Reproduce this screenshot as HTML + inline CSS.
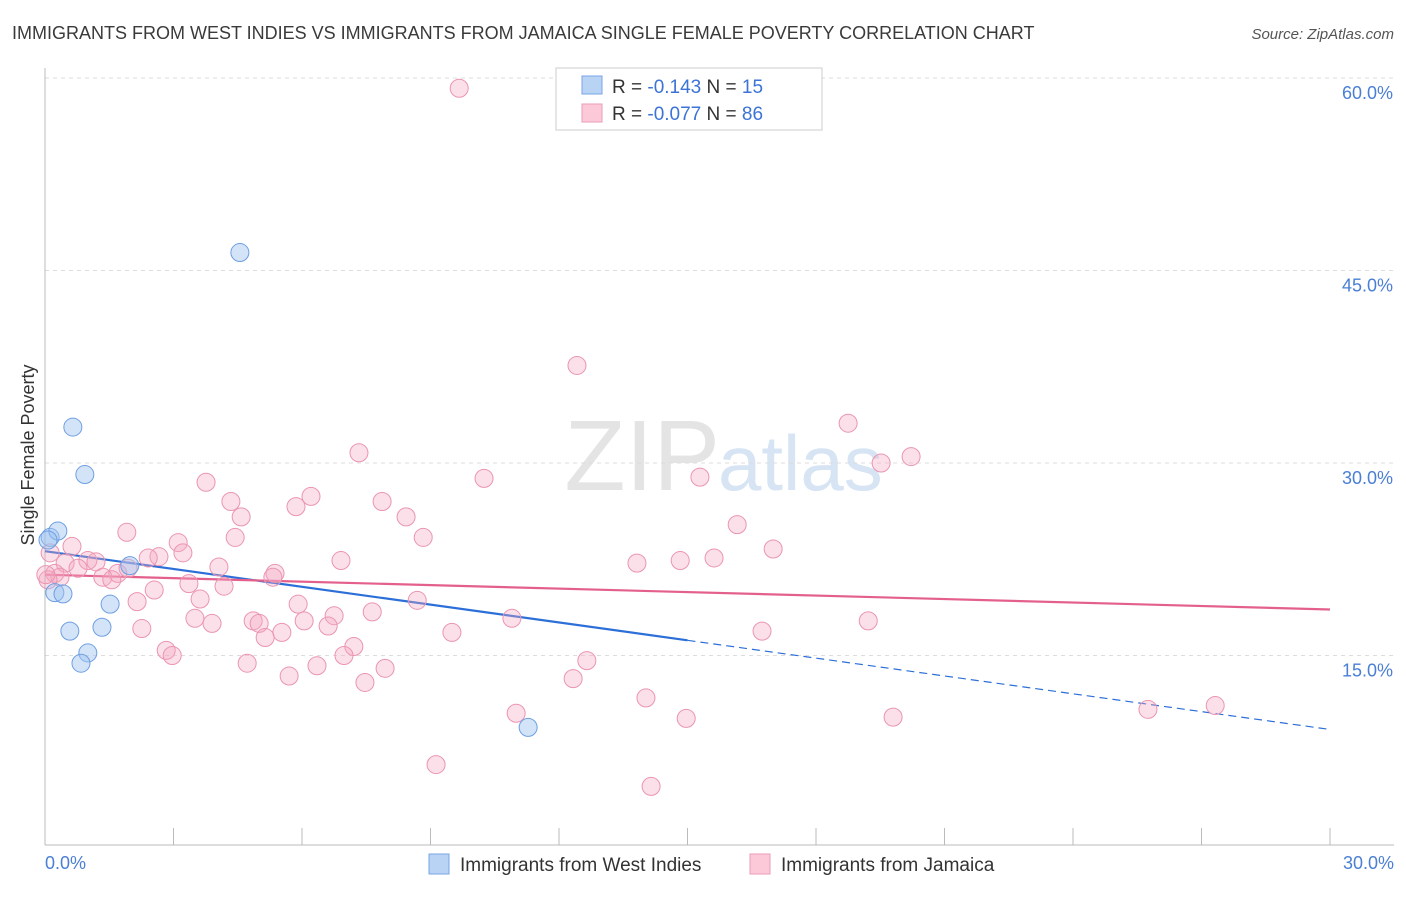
<!DOCTYPE html>
<html><head><meta charset="utf-8"><style>
body{margin:0;background:#fff;font-family:"Liberation Sans",sans-serif;}
svg text{font-family:"Liberation Sans",sans-serif;}
</style></head><body>
<svg id="chart" width="1406" height="892" viewBox="0 0 1406 892" xmlns="http://www.w3.org/2000/svg">
<text x="12" y="39" font-size="18" fill="#3a3a3a">IMMIGRANTS FROM WEST INDIES VS IMMIGRANTS FROM JAMAICA SINGLE FEMALE POVERTY CORRELATION CHART</text>
<text x="1394" y="39" font-size="15" fill="#555" text-anchor="end" font-style="italic">Source: ZipAtlas.com</text>
<text x="720" y="490" font-size="100" fill="#e4e4e4" text-anchor="end" font-family="Liberation Serif">ZIP</text>
<text x="718" y="490" font-size="78" fill="#d6e4f4">atlas</text>
<g id="grid"></g><g id="axes"></g><g id="lines"></g><g id="pts"></g>
<text transform="translate(34,455) rotate(-90)" font-size="18" fill="#333" text-anchor="middle">Single Female Poverty</text>
<text x="45" y="869" font-size="18" fill="#4a7fd4">0.0%</text>
<text x="1394" y="869" font-size="18" fill="#4a7fd4" text-anchor="end">30.0%</text>
<g>
<rect x="556" y="68" width="266" height="62" fill="#fff" stroke="#ccc"/>
<rect x="582" y="76" width="20" height="18" fill="#b9d3f5" stroke="#7aa5e4"/>
<rect x="582" y="104" width="20" height="18" fill="#fcc9d8" stroke="#ec9db7"/>
<text x="612" y="93" font-size="19" fill="#333">R = <tspan fill="#3b73d6">-0.143</tspan>   N = <tspan fill="#3b73d6">15</tspan></text>
<text x="612" y="120" font-size="19" fill="#333">R = <tspan fill="#3b73d6">-0.077</tspan>   N = <tspan fill="#3b73d6">86</tspan></text>
</g>
<g>
<rect x="429" y="854" width="20" height="20" fill="#b9d3f5" stroke="#7aa5e4"/>
<text x="460" y="871" font-size="19" fill="#333">Immigrants from West Indies</text>
<rect x="750" y="854" width="20" height="20" fill="#fcc9d8" stroke="#ec9db7"/>
<text x="781" y="871" font-size="19" fill="#333">Immigrants from Jamaica</text>
</g>
</svg>
<script>
const yTicks=[15,30,45,60];
const yTickLabels=["15.0%","30.0%","45.0%","60.0%"];
const xTicks=[0,3,6,9,12,15,18,21,24,27,30];
const blueX=[0.12,0.30,0.23,0.42,0.65,0.93,0.58,1.33,1.52,1.00,0.84,1.98,4.55,11.28,0.07];
const blueY=[24.2,24.7,19.9,19.8,32.8,29.1,16.9,17.2,19.0,15.2,14.4,22.0,46.4,9.4,24.0];
const pinkX=[9.67,12.42,18.75,20.22,19.52,7.33,10.25,15.29,3.76,6.21,4.34,5.86,7.87,4.58,8.43,16.16,1.91,4.44,8.83,3.11,0.63,17.0,3.22,2.66,2.41,6.91,15.62,14.83,13.82,1.0,1.19,0.47,4.06,0.77,5.37,5.32,1.70,0.23,0.35,1.35,1.56,0.07,3.36,4.18,2.55,3.62,2.15,8.69,5.91,7.64,6.75,3.50,10.90,19.22,4.86,5.0,6.05,3.90,6.61,2.26,5.53,5.14,9.50,16.74,7.21,2.83,2.97,6.98,12.65,4.72,6.35,7.94,5.70,12.33,7.47,14.03,25.75,27.32,11.0,14.97,19.80,9.13,14.15,0.12,1.94,0.02];
const pinkY=[59.2,37.6,33.1,30.5,30.0,30.8,28.8,28.9,28.5,27.4,27.0,26.6,27.0,25.8,25.8,25.2,24.6,24.2,24.2,23.8,23.5,23.3,23.0,22.7,22.6,22.4,22.6,22.4,22.2,22.4,22.3,22.2,21.9,21.8,21.4,21.1,21.4,21.4,21.1,21.1,20.9,20.9,20.6,20.4,20.1,19.4,19.2,19.3,19.0,18.4,18.1,17.9,17.9,17.7,17.7,17.5,17.7,17.5,17.3,17.1,16.8,16.4,16.8,16.9,15.7,15.4,15.0,15.0,14.6,14.4,14.2,14.0,13.4,13.2,12.9,11.7,10.8,11.1,10.5,10.1,10.2,6.5,4.8,23.0,21.8,21.3];
const NS="http://www.w3.org/2000/svg";
const sx=v=>45+v/30*1285, sy=v=>848-v/60*770;
function mk(p,t,a){const e=document.createElementNS(NS,t);for(const k in a)e.setAttribute(k,a[k]);document.getElementById(p).appendChild(e);return e;}
yTicks.forEach((t,i)=>{
 const l=mk('grid','line',{x1:45,x2:1394,y1:sy(t),y2:sy(t),stroke:'#ddd','stroke-dasharray':'4,4'});
 
 
 const tx=mk('grid','text',{x:1393,y:sy(t)+21,'font-size':18,fill:'#4a7fd4','text-anchor':'end'});
 tx.textContent=yTickLabels[i];
 
 
});
const ax=mk('axes','line',{x1:45,x2:1394,y1:845,y2:845,stroke:'#bbb'});


const ay=mk('axes','line',{x1:45,x2:45,y1:68,y2:845,stroke:'#bbb'});


xTicks.forEach(t=>{const l=mk('axes','line',{x1:sx(t),x2:sx(t),y1:828,y2:845,stroke:'#bbb'});
 
 });
function fit(X,Y){const n=X.length;let mx=0,my=0;for(let i=0;i<n;i++){mx+=X[i];my+=Y[i];}mx/=n;my/=n;let a=0,b=0;for(let i=0;i<n;i++){a+=(X[i]-mx)*(Y[i]-my);b+=(X[i]-mx)**2;}const s=a/b;return [s,my-s*mx];}
const [bs,bi]=fit(blueX,blueY),[ps,pi]=fit(pinkX,pinkY);
let e=mk('lines','line',{x1:sx(0),y1:sy(bi),x2:sx(15),y2:sy(bi+bs*15),stroke:'#2c6fd8','stroke-width':2.2});


e=mk('lines','line',{x1:sx(15),y1:sy(bi+bs*15),x2:sx(30),y2:sy(bi+bs*30),stroke:'#2c6fd8','stroke-width':1.2,'stroke-dasharray':'8,5'});


e=mk('lines','line',{x1:sx(0),y1:sy(pi),x2:sx(30),y2:sy(pi+ps*30),stroke:'#e4608c','stroke-width':2.2});


pinkX.forEach((x,i)=>{const c=mk('pts','circle',{cx:sx(x),cy:sy(pinkY[i]),r:9,fill:'rgba(244,166,191,0.35)',stroke:'#eb95b1','stroke-width':1});
 
 });
blueX.forEach((x,i)=>{const c=mk('pts','circle',{cx:sx(x),cy:sy(blueY[i]),r:9,fill:'rgba(160,196,240,0.45)',stroke:'#6e9fe2','stroke-width':1});
 
 });
</script>
</body></html>
